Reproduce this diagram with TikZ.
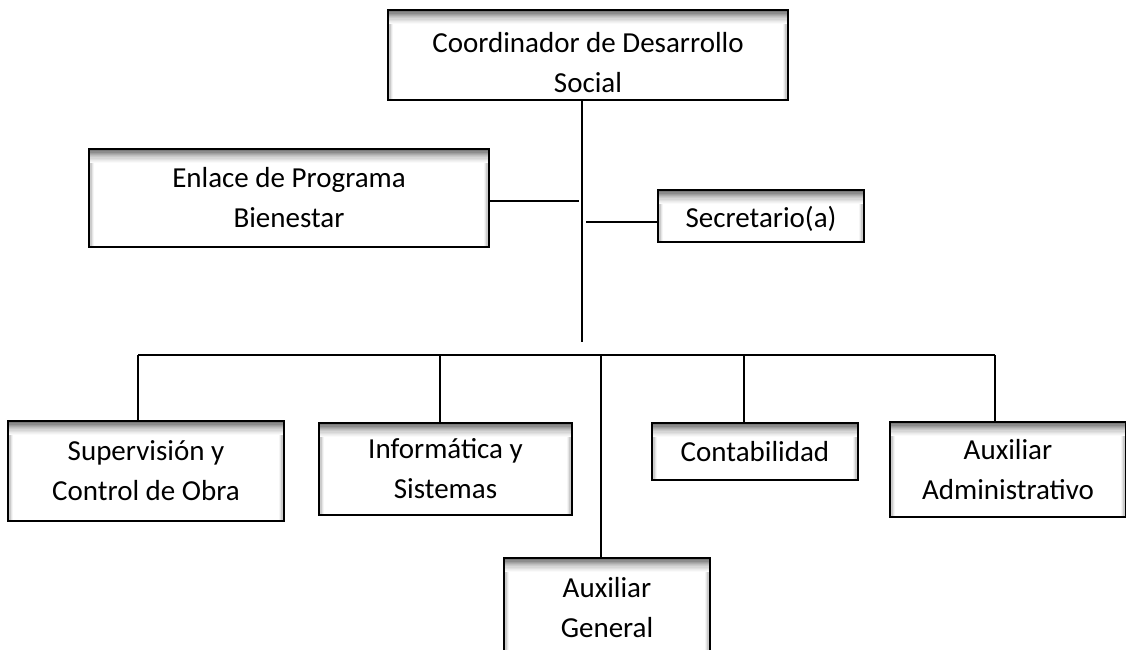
\documentclass[tikz,border=0pt]{standalone}
\usepackage{fontspec}
\setmainfont{Carlito}
\usepackage{tikz}

\tikzset{
  orgbox/.style 2 args={draw, line width=1.4pt, fill=white, align=center,
    inner sep=0pt, minimum width=#1*0.75pt, minimum height=#2*0.75pt,
    font=\fontsize{21.75}{30}\selectfont,
    path picture={
      % soft shadow on the sides, then on the top
      \foreach \i/\c in {0/35,1/20,2/10,3/4} {
        \fill[black!\c] ([xshift=\i*1pt]path picture bounding box.north west) rectangle ([xshift=\i*1pt+1pt]path picture bounding box.south west);
        \fill[black!\c] ([xshift=-\i*1pt]path picture bounding box.north east) rectangle ([xshift=-\i*1pt-1pt]path picture bounding box.south east);
      }
      \foreach \i/\c in {0/60,1/52,2/45,3/38,4/32,5/26,6/21,7/16,8/12,9/8,10/5,11/2} {
        \fill[black!\c] ([yshift=-\i*0.9pt]path picture bounding box.north west) rectangle ([yshift=-\i*0.9pt-0.9pt]path picture bounding box.north east);
      }
    }},
  link/.style={line width=1.3pt}
}

\begin{document}
\begin{tikzpicture}[x=0.75pt, y=-0.75pt]
  \useasboundingbox (0,0) rectangle (1126,649);

  % Draw the boxes
  \node[orgbox={400}{90}] (coord) at (588,55) {\rule{0pt}{27pt}Coordinador de Desarrollo\\Social};
  \node[orgbox={400}{98}] (enlace) at (289,198) {Enlace de Programa\\Bienestar};
  \node[orgbox={206}{52}] (secre) at (761,216) {\rule{0pt}{20pt}Secretario(a)};
  \node[orgbox={276}{100}] (superv) at (146,471) {Supervisión y\\Control de Obra};
  \node[orgbox={253}{92}] (inform) at (445.5,469) {Informática y\\Sistemas};
  \node[orgbox={206}{57}] (contab) at (755,451.5) {Contabilidad};
  \node[orgbox={236}{95}] (auxadm) at (1008,469.5) {Auxiliar\\Administrativo};
  \node[orgbox={206}{100}] (auxgen) at (607,608) {Auxiliar\\General};

  % Draw the trunk and the side branches
  \coordinate (trunk) at (582,342);
  \draw[link] (coord.south -| trunk) -- (trunk);
  \coordinate (left) at (579,201);
  \draw[link] (enlace.east |- left) -- (left);
  \coordinate (right) at (586,222);
  \draw[link] (right) -- (secre.west |- right);

  % Draw the bus and the drops
  \foreach \n/\x in {b1/138, b2/440, b3/601, b4/744, b5/995} {
    \coordinate (\n) at (\x,355);
  }
  \draw[link] (b1) -- (b5);
  \foreach \b/\n in {b1/superv, b2/inform, b3/auxgen, b4/contab, b5/auxadm} {
    \draw[link] (\b) -- (\b |- \n.north);
  }
\end{tikzpicture}
\end{document}
